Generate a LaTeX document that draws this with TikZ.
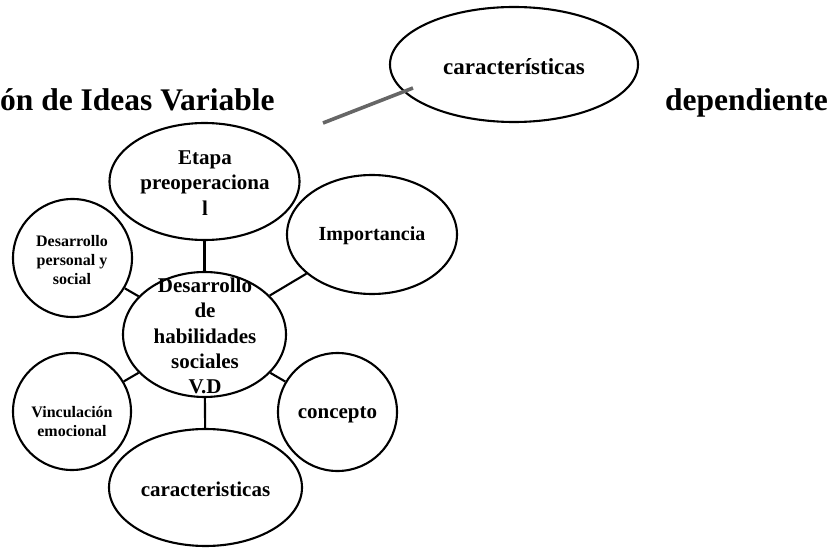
\documentclass[tikz,border=0pt]{standalone}
\usepackage{fontspec}
\setmainfont{Liberation Serif}
\usetikzlibrary{shapes.geometric}
\tikzset{
  oval/.style={draw=black, line width=2.1pt, ellipse, inner sep=0pt, fill=none},
  link/.style={draw=black, line width=2.1pt},
  big/.style={font=\bfseries\fontsize{21}{25.3}\selectfont, align=center, inner sep=0pt},
  small/.style={font=\bfseries\fontsize{16}{18.7}\selectfont, align=center, inner sep=0pt},
  title/.style={font=\bfseries\fontsize{31.5}{36}\selectfont, inner sep=0pt},
  grayline/.style={draw=black!60, line width=3.6pt}
}
\begin{document}
\begin{tikzpicture}[x=1pt,y=-1pt]
\useasboundingbox (0,0) rectangle (833,548);
% title texts
\node[title, anchor=base west] (t1) at (0,110.5) {ón de Ideas Variable};
\node[title, anchor=base east] (t2) at (828,110.5) {dependiente};
% top ellipse and gray connector
\node[oval, minimum width=248pt, minimum height=115pt] (top) at (514,64.5) {};
\node[big, font=\bfseries\fontsize{23}{27}\selectfont] (toptxt) at (514,67) {características};
\coordinate (g1) at (323,123);
\coordinate (g2) at (413,88);
\draw[grayline] (g1) -- (g2);
% ellipses
\node[oval, minimum width=190pt, minimum height=117pt] (etapa) at (204.5,181.5) {};
\node[oval, minimum width=170pt, minimum height=119pt] (imp) at (372,234.5) {};
\node[oval, minimum width=119pt, minimum height=118pt] (dps) at (72.5,258) {};
\node[oval, minimum width=163pt, minimum height=125pt] (center) at (204.5,334.5) {};
\node[oval, minimum width=118pt, minimum height=117pt] (vinc) at (72,411.5) {};
\node[oval, minimum width=119pt, minimum height=118pt] (conc) at (337.5,412) {};
\node[oval, minimum width=193pt, minimum height=117pt] (carac) at (205.5,487.5) {};
% connectors
\draw[link] (etapa) -- (center);
\draw[link] (imp) -- (center);
\draw[link] (dps) -- (center);
\draw[link] (vinc) -- (center);
\draw[link] (conc) -- (center);
\draw[link] (center) -- (carac);
% texts
\node[big] (etapatxt) at (205,183) {Etapa\\preoperaciona\\l};
\node[big, font=\bfseries\fontsize{20}{24}\selectfont] (imptxt) at (372,236) {Importancia};
\node[small] (dpstxt) at (72,260) {Desarrollo\\personal y\\social};
\node[big] (centertxt) at (205,336) {Desarrollo\\de\\habilidades\\sociales\\V.D};
\node[small] (vinctxt) at (72,421.5) {Vinculación\\emocional};
\node[big] (conctxt) at (337.5,414.5) {concepto};
\node[big] (caractxt) at (205.5,489) {caracteristicas};
\end{tikzpicture}
\end{document}
